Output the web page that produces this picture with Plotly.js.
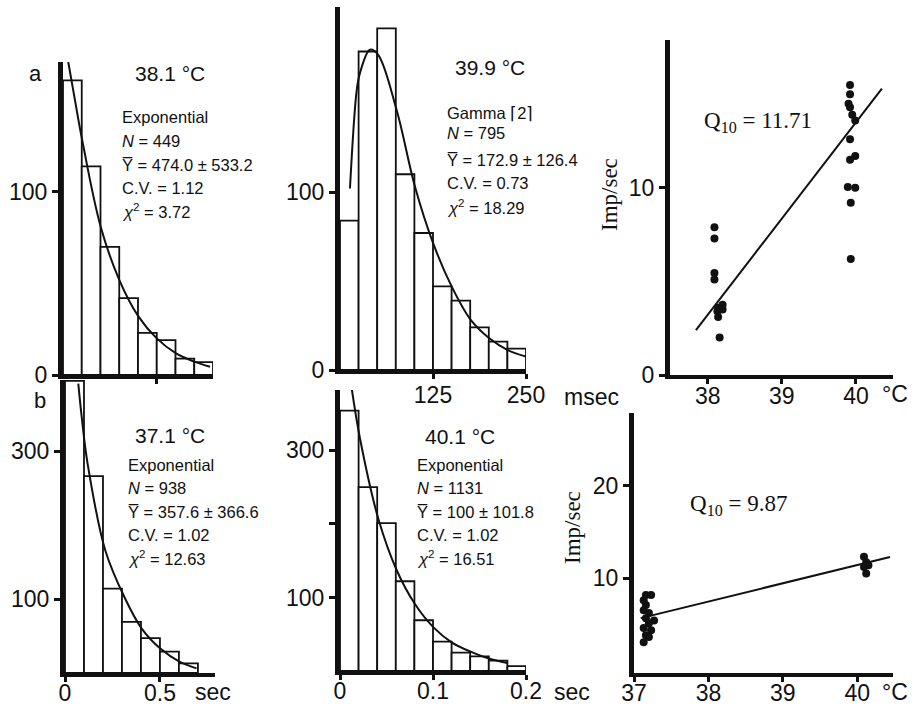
<!DOCTYPE html>
<html>
<head>
<meta charset="utf-8">
<script src="https://cdn.plot.ly/plotly-3.0.1.min.js"></script>
<style>html,body{margin:0;padding:0;background:#fff;}#chart{width:912px;height:708px;}</style>
</head>
<body>
<div id="chart"></div>
<script>
// ---------- DATA ----------
// (a) 38.1 °C histogram, bins of 0.1 s
const binsA = [0.05, 0.15, 0.25, 0.35, 0.45, 0.55, 0.65, 0.75];
const countsA = [161, 114, 70, 42, 23, 19, 9, 7];
const curveA_t = [0.028, 0.064, 0.103, 0.201, 0.300, 0.402, 0.500, 0.603, 0.700, 0.784];
const curveA_y = [171, 150, 128, 81, 52, 32, 20, 11.8, 7.3, 4.5];

// 39.9 °C histogram, bins of 25 msec
const binsB = [12.5, 37.5, 62.5, 87.5, 112.5, 137.5, 162.5, 187.5, 212.5, 237.5];
const countsB = [84, 179, 192, 110, 77, 47, 39, 24, 16, 12];
const curveB_t = [13.4, 22.4, 26.9, 40.3, 51.5, 76.2, 100.8, 125.4, 150, 176, 200.7, 225.4, 250];
const curveB_y = [102, 157, 167, 180, 177, 146, 103, 71, 47, 28, 17.8, 11.2, 7.5];

// (a) Imp/sec vs temperature, Q10 = 11.71
const tempA = [38.09, 38.09, 38.09, 38.09, 38.14, 38.20, 38.13, 38.20, 38.14, 38.16,
               39.92, 39.92, 39.90, 39.92, 39.95, 39.99, 39.92, 39.99, 39.92, 39.89, 39.99, 39.93, 39.93];
const rateA = [7.9, 7.3, 5.45, 5.1, 3.6, 3.75, 3.4, 3.5, 3.1, 2.0,
               15.5, 15.0, 14.5, 14.3, 13.9, 13.6, 12.6, 11.7, 11.5, 10.05, 10.0, 9.2, 6.2];
const fitA_x = [37.84, 40.35];
const fitA_y = [2.4, 15.3];

// (b) 37.1 °C histogram, bins of 0.1 s
const binsC = [0.05, 0.15, 0.25, 0.35, 0.45, 0.55, 0.65];
const countsC = [395, 266, 114, 69, 47, 29, 13];
const curveC_t = [0.070, 0.088, 0.119, 0.212, 0.312, 0.404, 0.502, 0.605, 0.693];
const curveC_y = [391, 346, 283, 166, 103, 60, 33, 15, 6.3];

// (b) 40.1 °C histogram, bins of 0.02 s
const binsD = [0.01, 0.03, 0.05, 0.07, 0.09, 0.11, 0.13, 0.15, 0.17, 0.19];
const countsD = [354, 250, 201, 122, 69, 40, 25, 20, 14, 6.5];
const curveD_t = [0.0126, 0.0215, 0.0412, 0.061, 0.0806, 0.100, 0.120, 0.141, 0.160, 0.180];
const curveD_y = [384, 316, 207, 137, 91, 60, 39, 26, 17, 11];

// (b) Imp/sec vs temperature, Q10 = 9.87
const tempB = [37.16, 37.23, 37.13, 37.16, 37.13, 37.20, 37.27, 37.16, 37.20, 37.13, 37.23, 37.16, 37.20, 37.13,
               40.09, 40.12, 40.15, 40.09, 40.12];
const rateB = [8.15, 8.15, 7.6, 7.07, 6.5, 6.2, 5.4, 5.65, 5.1, 4.57, 4.35, 3.8, 3.6, 3.04,
               12.3, 11.7, 11.4, 11.2, 10.5];
const fitB_x = [37.09, 40.44];
const fitB_y = [5.65, 12.28];

// ---------- LAYOUT HELPERS ----------
const W = 912, H = 708;
const dx = (a, b) => [a / W, b / W];
const dy = (top, bot) => [1 - bot / H, 1 - top / H];
const px = (x) => x / W;
const py = (y) => 1 - y / H;

const SANS = 'Liberation Sans, Arial, sans-serif';
const SERIF = 'Liberation Serif, Times New Roman, serif';
const tickFont = {family: SANS, size: 23, color: '#111'};

function xAx(domain, range, tickvals, ticktext, anchor, standoff) {
  return {domain, range, anchor, showline: true, linewidth: 4, linecolor: '#111',
    ticks: 'outside', ticklen: 5, tickwidth: 3, tickcolor: '#111',
    ticklabelstandoff: standoff || 0,
    tickvals, ticktext, tickfont: tickFont, showgrid: false, zeroline: false, fixedrange: true};
}
function yAx(domain, range, tickvals, ticktext, anchor) {
  return {domain, range, anchor, showline: true, linewidth: 5, linecolor: '#111',
    ticks: 'outside', ticklen: 6, tickwidth: 3, tickcolor: '#111',
    tickvals, ticktext, tickfont: tickFont, showgrid: false, zeroline: false, fixedrange: true};
}

function bars(x, y, w, xa, ya) {
  return {type: 'bar', x, y, width: w, xaxis: xa, yaxis: ya,
    marker: {color: '#fff', line: {color: '#111', width: 1.8}}, hoverinfo: 'skip'};
}
function curve(x, y, xa, ya) {
  return {type: 'scatter', mode: 'lines', x, y, xaxis: xa, yaxis: ya,
    line: {color: '#111', width: 2, shape: 'spline', smoothing: 1}, hoverinfo: 'skip'};
}
function dots(x, y, xa, ya) {
  return {type: 'scatter', mode: 'markers', x, y, xaxis: xa, yaxis: ya,
    marker: {color: '#111', size: 8}, hoverinfo: 'skip'};
}
function fit(x, y, xa, ya) {
  return {type: 'scatter', mode: 'lines', x, y, xaxis: xa, yaxis: ya,
    line: {color: '#111', width: 2}, hoverinfo: 'skip'};
}

const data = [
  bars(binsA, countsA, 0.1, 'x', 'y'), curve(curveA_t, curveA_y, 'x', 'y'),
  bars(binsB, countsB, 25, 'x2', 'y2'), curve(curveB_t, curveB_y, 'x2', 'y2'),
  fit(fitA_x, fitA_y, 'x3', 'y3'), dots(tempA, rateA, 'x3', 'y3'),
  bars(binsC, countsC, 0.1, 'x4', 'y4'), curve(curveC_t, curveC_y, 'x4', 'y4'),
  bars(binsD, countsD, 0.02, 'x5', 'y5'), curve(curveD_t, curveD_y, 'x5', 'y5'),
  fit(fitB_x, fitB_y, 'x6', 'y6'), dots(tempB, rateB, 'x6', 'y6')
];

function txt(text, x, y, size, opts) {
  return Object.assign({text, xref: 'paper', yref: 'paper', x: px(x), y: py(y),
    xanchor: 'left', yanchor: 'middle', showarrow: false,
    font: {family: SANS, size: size, color: '#111'}}, opts || {});
}
function statBlock(x, ys, lines) {
  return lines.map((t, i) => txt(t, x, ys[i], 16.5));
}

const annotations = [
  txt('a', 35, 73, 22, {xanchor: 'center'}),
  txt('38.1 °C', 133, 73, 21),
  ...statBlock(120, [117, 141, 165, 188, 211],
    ['Exponential', '<i>N</i> = 449', 'Y\u0305 = 474.0 ± 533.2', 'C.V. = 1.12', '<i>χ</i><sup>2</sup> = 3.72']),
  txt('39.9 °C', 453, 67, 21),
  ...statBlock(445, [113, 133, 160, 183, 207],
    ['Gamma ⌈2⌉', '<i>N</i> = 795', 'Y\u0305 = 172.9 ± 126.4', 'C.V. = 0.73', '<i>χ</i><sup>2</sup> = 18.29']),
  txt('Q<sub>10</sub> = 11.71', 702, 122, 23, {font: {family: SERIF, size: 23, color: '#111'}}),
  txt('Imp/sec', 610, 195, 23, {xanchor: 'center', textangle: -90, font: {family: SERIF, size: 23, color: '#111'}}),
  txt('msec', 562, 397, 23),
  txt('°C', 880, 394, 23),
  txt('b', 40, 400, 22, {xanchor: 'center'}),
  txt('37.1 °C', 133, 435, 21),
  ...statBlock(126, [465, 488, 512, 535, 558],
    ['Exponential', '<i>N</i> = 938', 'Y\u0305 = 357.6 ± 366.6', 'C.V. = 1.02', '<i>χ</i><sup>2</sup> = 12.63']),
  txt('40.1 °C', 423, 437, 21),
  ...statBlock(415, [465, 488, 512, 535, 558],
    ['Exponential', '<i>N</i> = 1131', 'Y\u0305 = 100 ± 101.8', 'C.V. = 1.02', '<i>χ</i><sup>2</sup> = 16.51']),
  txt('Q<sub>10</sub> = 9.87', 688, 505, 23, {font: {family: SERIF, size: 23, color: '#111'}}),
  txt('Imp/sec', 572, 528, 23, {xanchor: 'center', textangle: -90, font: {family: SERIF, size: 23, color: '#111'}}),
  txt('sec', 193, 692, 23),
  txt('sec', 552, 692, 23),
  txt('°C', 880, 692, 23)
];

const layout = {
  width: W, height: H,
  margin: {l: 0, r: 0, t: 0, b: 0},
  paper_bgcolor: '#fff', plot_bgcolor: 'rgba(0,0,0,0)',
  showlegend: false, bargap: 0,
  xaxis:  xAx(dx(63, 213), [0, 0.8], [0.5], [' '], 'y'),
  yaxis:  yAx(dy(62, 375), [0, 171], [0, 100], ['0', '100'], 'x'),
  xaxis2: xAx(dx(340, 526), [0, 250], [125, 250], ['125', '250'], 'y2', -4),
  yaxis2: yAx(dy(7, 370), [0, 204], [0, 100], ['0', '100'], 'x2'),
  xaxis3: xAx(dx(670, 893), [37.49, 40.5], [38, 39, 40], ['38', '39', '40'], 'y3', -8),
  yaxis3: yAx(dy(40, 375), [0, 17.9], [0, 10], ['0', '10'], 'x3'),
  xaxis4: xAx(dx(65, 215), [0, 0.79], [0, 0.5], ['0', '0.5'], 'y4', -9),
  yaxis4: yAx(dy(380, 673), [0, 396], [100, 300], ['100', '300'], 'x4'),
  xaxis5: xAx(dx(340, 526), [0, 0.2], [0, 0.1, 0.2], ['0', '0.1', '0.2'], 'y5', -9),
  yaxis5: yAx(dy(390, 671), [0, 382], [100, 200, 300], ['100', ' ', '300'], 'x5'),
  xaxis6: xAx(dx(634, 893), [37.0, 40.48], [37, 38, 39, 40], ['37', '38', '39', '40'], 'y6', -9),
  yaxis6: yAx(dy(413, 673), [-0.3, 27.9], [10, 20], ['10', '20'], 'x6'),
  annotations
};

Plotly.newPlot('chart', data, layout, {displayModeBar: false, staticPlot: true});
</script>
</body>
</html>
